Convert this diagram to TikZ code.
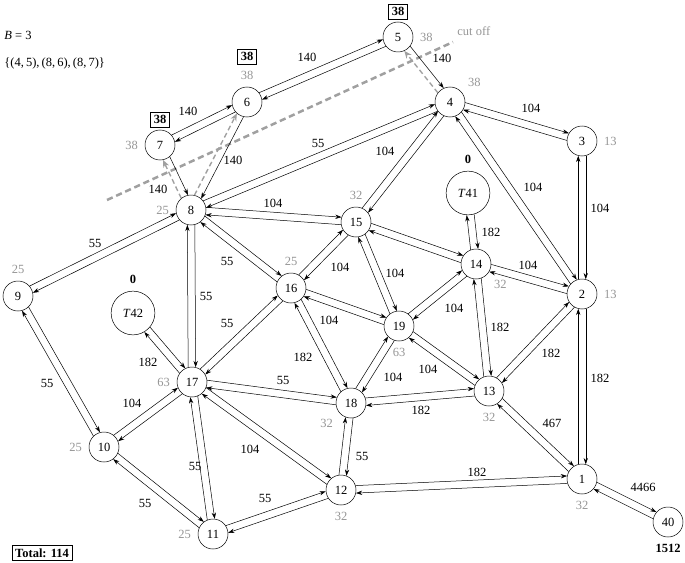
\documentclass[tikz,border=0pt]{standalone}
\usepackage{fontspec}
\setmainfont{Liberation Serif}
\usepackage{tikz}
\usetikzlibrary{arrows.meta,calc}
\definecolor{GrisCorte}{RGB}{160,160,160}
\definecolor{GrisCapa}{RGB}{150,150,150}
\tikzset{
  nodo/.style={circle,draw,minimum size=24pt,inner sep=0pt},
  nodogrande/.style={circle,draw,minimum size=35pt,inner sep=0pt},
  capa/.style={text=GrisCapa},
  caja/.style={draw,font=\bfseries,inner sep=2.5pt},
  corte/.style={draw=GrisCorte,line width=1.1pt,dash pattern=on 4pt off 2.5pt,-{Stealth[length=6pt,width=5pt]}},
}
\newcommand{\arco}[3][]{\draw[->,shorten <=11.8pt,shorten >=11.8pt,#1] ($(#2)!3pt!90:(#3)$) -- ($(#3)!3pt!-90:(#2)$);}

\begin{document}
\begin{tikzpicture}[x=0.8pt,y=-0.8pt,>={Stealth[length=5pt,width=3.4pt]},label distance=2pt]
  \useasboundingbox (0,0) rectangle (685,562);
  \node[anchor=west] (presup) at (0,35) {\textit{B} = 3};
  \node[anchor=west] (cortados) at (0,63) {\{(4,\,5),\,(8,\,6),\,(8,\,7)\}};
  \node[caja] (total) at (42,553) {Total: 114};

  \node[nodo,label={[capa]below:32}] (v1) at (582,479) {1};
  \node[nodo,label={[capa]right:13}] (v2) at (582,294) {2};
  \node[nodo,label={[capa]right:13}] (v3) at (582,141) {3};
  \node[nodo,label={[capa]40:38}] (v4) at (450,102) {4};
  \node[nodo,label={[capa]right:38},label={[caja]above:38}] (v5) at (398,37) {5};
  \node[nodo,label={[capa]above:38},label={[caja,label distance=18pt]above:38}] (v6) at (247,102) {6};
  \node[nodo,label={[capa]left:38},label={[caja]above:38}] (v7) at (160,145) {7};
  \node[nodo,label={[capa]left:25}] (v8) at (191,210) {8};
  \node[nodo,label={[capa]above:25}] (v9) at (18,296) {9};
  \node[nodo,label={[capa]left:25}] (v10) at (104,447) {10};
  \node[nodo,label={[capa]left:25}] (v11) at (213,534) {11};
  \node[nodo,label={[capa]below:32}] (v12) at (341,490) {12};
  \node[nodo,label={[capa]below:32}] (v13) at (489,391) {13};
  \node[nodo,label={[capa]-40:32}] (v14) at (476,264) {14};
  \node[nodo,label={[capa]above:32}] (v15) at (356,222) {15};
  \node[nodo,label={[capa]above:25}] (v16) at (291,288) {16};
  \node[nodo,label={[capa]left:63}] (v17) at (192,382) {17};
  \node[nodo,label={[capa]220:32}] (v18) at (351,403) {18};
  \node[nodo,label={[capa]below:63}] (v19) at (399,326) {19};
  \node[nodo,label={[font=\bfseries]below:1512}] (v40) at (668,522) {40};
  \node[nodogrande,label={[font=\bfseries]above:0}] (T41) at (468,193) {\textit{T}41};
  \node[nodogrande,label={[font=\bfseries]above:0}] (T42) at (133,313) {\textit{T}42};

  \coordinate (c1) at (107,200);
  \coordinate (c2) at (453,42);
  \draw[GrisCorte,line width=2pt,dash pattern=on 5pt off 3pt] (c1) -- (c2);
  \node[capa,anchor=west] (cutoff) at (453,31) {cut off};

  \foreach \a/\b in {5/6,6/7,4/8,4/15,4/3,4/2,3/2,8/15,8/9,8/16,8/17,15/16,15/19,15/14,
      14/2,14/19,14/13,2/13,2/1,16/19,16/17,16/18,19/18,19/13,9/10,17/10,17/18,17/11,
      17/12,13/18,13/1,18/12,12/1,10/11,11/12,1/40}{
    \arco{v\a}{v\b}
    \arco{v\b}{v\a}
  }
  \arco[shorten <=17.5pt]{T41}{v14}
  \arco[shorten >=17.5pt]{v14}{T41}
  \arco[shorten <=17.5pt]{T42}{v17}
  \arco[shorten >=17.5pt]{v17}{T42}
  \arco{v5}{v4}
  \arco[corte]{v4}{v5}
  \arco{v6}{v8}
  \arco[corte]{v8}{v6}
  \arco{v7}{v8}
  \arco[corte]{v8}{v7}

  \foreach \x/\y/\t [count=\i] in {307/57/140,442/58/140,188/111/140,233/160/140,158/189/140,
      318/143/55,385/151/104,531/108/104,533/187/104,600/208/104,273/203/104,95/243/55,
      227/261/55,206/296/55,340/267/104,395/273/104,491/232/182,528/265/104,454/308/104,
      500/327/182,551/353/182,600/378/182,329/320/104,227/323/55,303/357/182,393/377/104,
      428/369/104,148/362/182,47/383/55,132/403/104,283/380/55,195/466/55,250/449/104,
      421/410/182,552/423/467,362/456/55,477/472/182,145/503/55,265/498/55,643/487/4466}
    \node (peso\i) at (\x,\y) {\t};
\end{tikzpicture}
\end{document}
